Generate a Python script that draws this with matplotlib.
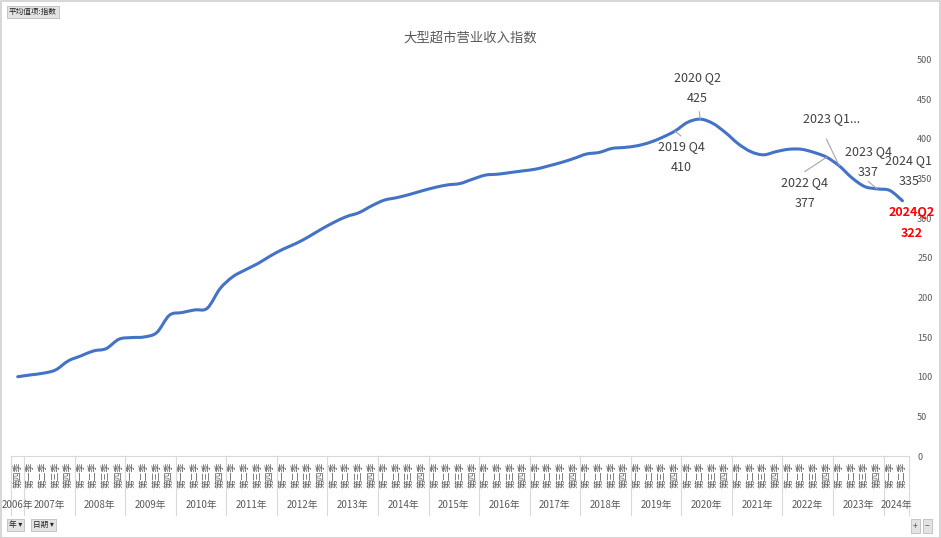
import numpy as np
import matplotlib.pyplot as plt
import matplotlib.transforms as mtransforms
from matplotlib.path import Path
from matplotlib.patches import PathPatch, Rectangle

plt.rcParams['font.family'] = ['Noto Sans CJK SC', 'DejaVu Sans']

# ---- data ----
title = "大型超市营业收入指数"
years = ["2006年", "2007年", "2008年", "2009年", "2010年", "2011年", "2012年",
         "2013年", "2014年", "2015年", "2016年", "2017年", "2018年", "2019年",
         "2020年", "2021年", "2022年", "2023年", "2024年"]
quarters_per_year = [1] + [4] * 17 + [2]
quarter_names = ["第一季", "第二季", "第三季", "第四季"]
quarter_labels = ["第四季"] + quarter_names * 17 + ["第一季", "第二季"]

index_values = [100, 102.3, 104.4, 108.6, 120, 126.3, 132.6, 135.5,
                147.3, 149.4, 150.2, 155.7, 177.6, 181, 184.3, 186.5,
                211, 226, 234.8, 242.8, 252.5, 261, 268, 276.5,
                286, 294.6, 302, 307, 315.6, 322.8, 326, 330,
                334.6, 338.8, 342, 343.8, 349.3, 354.4, 355.6, 357.7,
                359.8, 362, 366, 370.3, 375.4, 381, 383, 388,
                389.3, 391.4, 395.6, 402, 410, 421, 425, 419.6,
                408, 394, 384, 380, 384, 387, 387, 383,
                377, 366, 351, 340, 337, 335, 322]

# callouts: (point index, text)
callout_idx = [54, 52, 65, 64, 68, 69, 70]
callout_text = ["2020 Q2\n425", "2019 Q4\n410", "2023 Q1...", "2022 Q4\n377",
                "2023 Q4\n337", "2024 Q1\n335", "2024Q2\n322"]

# ---- layout (pixels) ----
W, H = 941, 538
PX = 72 / 100  # points per pixel
text_off = [(-3, 31), (6, -26), (-8, 47), (-22, -36), (-9, 27), (19, 19.5), (9, -22)]
lead_off = [(-1, 7.5), (6, -5), (-13, 27), (-22, -14.5), (-9, 7.5), None, None]

fig = plt.figure(figsize=(W / 100, H / 100), dpi=100)
ax_left, ax_right, ax_bottom, ax_top = 11.4, 908.8, 456, 59.7
ax = fig.add_axes([ax_left / W, (H - ax_bottom) / H,
                   (ax_right - ax_left) / W, (ax_bottom - ax_top) / H])

n = len(index_values)
x = np.arange(n)
y = np.array(index_values, dtype=float)

# smoothed line (Bezier through every point, Excel style)
P = np.column_stack([x, y])
Pm = np.vstack([P[0], P, P[-1]])
verts = [P[0]]
codes = [Path.MOVETO]
for k in range(n - 1):
    p0, p1, p2, p3 = Pm[k], Pm[k + 1], Pm[k + 2], Pm[k + 3]
    verts += [p1 + (p2 - p0) / 6, p2 - (p3 - p1) / 6, p2]
    codes += [Path.CURVE4] * 3
ax.add_patch(PathPatch(Path(verts, codes), fill=False, edgecolor="#4472C4",
                       lw=2.2, capstyle="round", joinstyle="round"))

ax.set_xlim(-0.5, n - 0.5)
ax.set_ylim(0, 500)

for s in ["top", "left", "right"]:
    ax.spines[s].set_visible(False)
ax.spines["bottom"].set_color("#d9d9d9")
ax.spines["bottom"].set_linewidth(0.8)

ax.yaxis.tick_right()
ax.set_yticks(np.arange(0, 501, 50))
ax.tick_params(axis="y", length=0, pad=6, labelsize=6.5, labelcolor="#595959")
ax.set_xticks(x)
ax.set_xticklabels(quarter_labels, rotation=90, fontsize=6.3, color="#595959")
ax.tick_params(axis="x", length=0, pad=4)
for lbl in ax.get_yticklabels():
    lbl.set_horizontalalignment("left")

# year grouping row
trans = mtransforms.blended_transform_factory(ax.transData, ax.transAxes)
ax_h = ax_bottom - ax_top
sep_bottom = -(515 - ax_bottom) / ax_h
year_y = -(505 - ax_bottom) / ax_h
start = -0.5
bounds = [start]
for yr, q in zip(years, quarters_per_year):
    end = start + q
    ax.text((start + end) / 2, year_y, yr, transform=trans, ha="center",
            va="center", fontsize=7, color="#595959")
    start = end
    bounds.append(end)
for b in bounds:
    ax.plot([b, b], [0, sep_bottom], transform=trans, color="#d9d9d9",
            lw=0.8, clip_on=False)

# callouts
for i, txt, (tx, ty), lo in zip(callout_idx, callout_text, text_off, lead_off):
    last = i == n - 1
    ax.annotate(txt, xy=(i, index_values[i]), xytext=(tx * PX, ty * PX),
                textcoords="offset points", ha="center", va="center",
                fontsize=9, linespacing=1.75,
                color="#ff0000" if last else "#404040",
                fontweight="bold" if last else "normal", annotation_clip=False)
    if lo is not None:
        ax.annotate("", xy=(i, index_values[i]), xytext=(lo[0] * PX, lo[1] * PX),
                    textcoords="offset points",
                    arrowprops=dict(arrowstyle="-", color="#a6a6a6", lw=0.8,
                                    shrinkA=0, shrinkB=0))

fig.text(470 / W, 1 - 38 / H, title, ha="center", va="center", fontsize=9.6,
         color="#595959")

# pivot chart buttons
btn = dict(boxstyle="square,pad=0.25", fc="#e3e3e3", ec="#bdbdbd", lw=0.6)
fig.text(9 / W, 1 - 12 / H, "平均值项:指数", ha="left", va="center",
         fontsize=5.5, color="#222222", bbox=btn)
fig.text(9 / W, 1 - 525 / H, "年 ▾", ha="left", va="center",
         fontsize=5.5, color="#222222", bbox=btn)
fig.text(33 / W, 1 - 525 / H, "日期 ▾", ha="left", va="center",
         fontsize=5.5, color="#222222", bbox=btn)
fig.text(913 / W, 1 - 526 / H, "+", ha="left", va="center",
         fontsize=6, color="#555555", bbox=btn)
fig.text(925 / W, 1 - 526 / H, "−", ha="left", va="center",
         fontsize=6, color="#555555", bbox=btn)

fig.patches.append(Rectangle((0.5 / W, 0.5 / H), 1 - 1.5 / W, 1 - 1.5 / H,
                             transform=fig.transFigure, fill=False,
                             ec="#d0d0d0", lw=1.2))

fig.savefig("out.png", dpi=100)
